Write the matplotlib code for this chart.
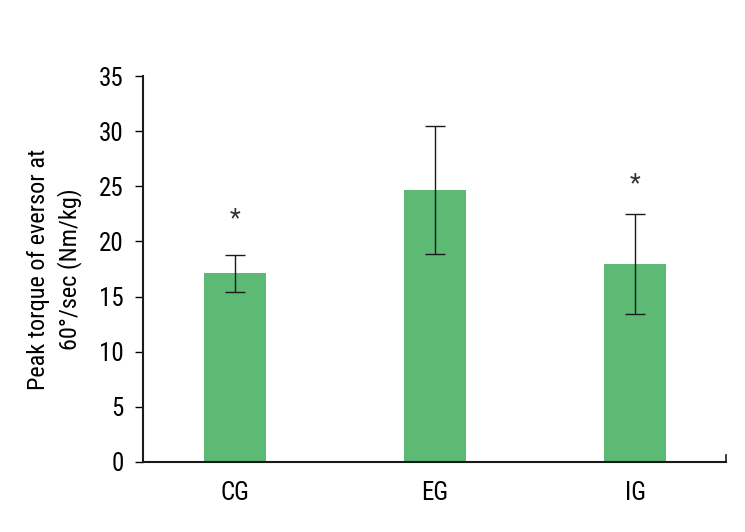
import matplotlib
matplotlib.use("Agg")
import matplotlib.pyplot as plt
from matplotlib import font_manager

names = {f.name for f in font_manager.fontManager.ttflist}
fam = [n for n in ["Liberation Sans Narrow", "Roboto Condensed", "Liberation Sans"] if n in names] + ["DejaVu Sans"]
plt.rcParams['font.family'] = fam

categories = ["CG", "EG", "IG"]
means = [17.1, 24.65, 17.95]
errors = [1.7, 5.8, 4.5]
stars = ["*", "", "*"]
star_y = [22.0, None, 25.2]
yticks = [0, 5, 10, 15, 20, 25, 30, 35]

fig = plt.figure(figsize=(7.45, 5.32), dpi=100)
ax = fig.add_axes([0.192, 0.1316, 0.7825, 0.7254])
x = list(range(len(categories)))
ax.bar(x, means, width=0.31, color="#5CBA74", zorder=2)
ax.errorbar(x, means, yerr=errors, fmt="none", ecolor="#1a1a1a", elinewidth=1.0,
            capsize=7, capthick=1.0, zorder=3)
for xi, s, sy in zip(x, stars, star_y):
    if s:
        ax.text(xi, sy, s, ha="center", va="center", fontsize=18, color="#333333")

ax.set_xlim(-0.46, 2.455)
ax.set_ylim(0, 35)
ax.set_yticks(yticks)
ax.set_xticks(x)
ax.set_xticklabels(categories, fontsize=18)
ax.tick_params(axis="x", length=0, pad=14)
ax.tick_params(axis="y", direction="out", length=6, width=1, labelsize=18, pad=8)
for s in ["top", "right"]:
    ax.spines[s].set_visible(False)
for s in ["left", "bottom"]:
    ax.spines[s].set_linewidth(1.5)
    ax.spines[s].set_color("#1a1a1a")
ax.plot([1, 1], [0, 0.018], transform=ax.transAxes, color="#1a1a1a", lw=1.2, clip_on=False)
ax.set_ylabel("Peak torque of eversor at\n60°/sec (Nm/kg)", fontsize=17.5, labelpad=12, linespacing=1.35)
fig.savefig("out.png", dpi=100)
